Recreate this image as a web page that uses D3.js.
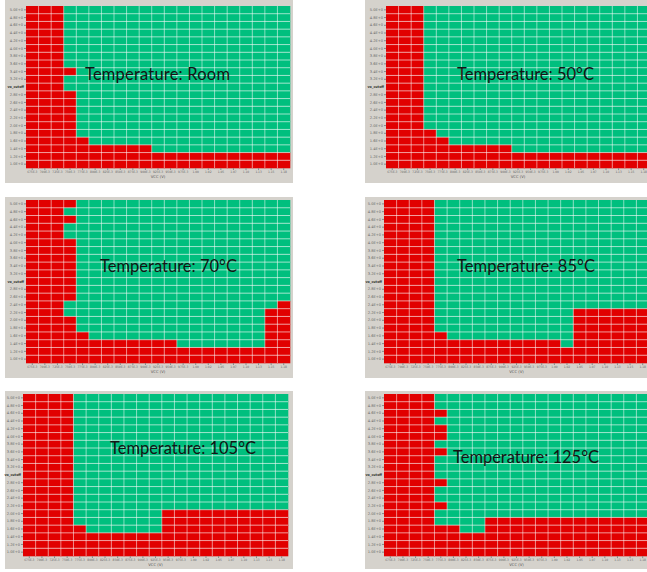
<!DOCTYPE html>
<html>
<head>
<meta charset="utf-8">
<script src="https://cdn.jsdelivr.net/npm/d3@7"></script>
<style>
  html, body { margin: 0; padding: 0; background: #ffffff; }
  svg { display: block; }
</style>
</head>
<body>
<svg id="chart" width="647" height="572"></svg>
<script>
// Supply voltage sweep (columns) and output level sweep (rows, top to bottom)
const vccSteps = [0.675, 0.700, 0.725, 0.750, 0.775, 0.800, 0.825, 0.850, 0.875, 0.900, 0.925,
                  0.950, 0.975, 1.000, 1.025, 1.050, 1.075, 1.100, 1.125, 1.150, 1.175];
const voutSteps = [5.0, 4.8, 4.6, 4.4, 4.2, 4.0, 3.8, 3.6, 3.4, 3.2, 3.0,
                   2.8, 2.6, 2.4, 2.2, 2.0, 1.8, 1.6, 1.4, 1.2, 1.0];

const temperatureLabels = ["Room", "50°C", "70°C", "85°C", "105°C", "125°C"];

// Shmoo results per row: alternating run lengths of FAIL, PASS, FAIL ... cells (left to right)
const shmooRoom = [
  [3, 18], [3, 18], [3, 18], [3, 18], [3, 18], [3, 18], [3, 18], [3, 18],
  [4, 17], [3, 18], [3, 18],
  [4, 17], [4, 17], [4, 17], [4, 17], [4, 17], [4, 17],
  [5, 16], [10, 11], [21], [21]
];
const shmoo50 = [
  [3, 18], [3, 18], [3, 18], [3, 18], [3, 18], [3, 18], [3, 18], [3, 18],
  [3, 18], [3, 18], [3, 18], [3, 18], [3, 18], [3, 18], [3, 18], [3, 18],
  [4, 17], [5, 16], [10, 11], [21], [21]
];
const shmoo70 = [
  [4, 17], [3, 18], [4, 17], [3, 18], [3, 18],
  [4, 17], [4, 17], [4, 17], [4, 17], [4, 17], [4, 17], [4, 17], [4, 17],
  [3, 17, 1], [3, 16, 2], [4, 15, 2], [4, 15, 2], [5, 14, 2], [12, 7, 2],
  [21], [21]
];
const shmoo85 = [
  [4, 17], [4, 17], [4, 17], [4, 17], [4, 17], [4, 17], [4, 17],
  [4, 17], [4, 17], [4, 17], [4, 17], [4, 17], [4, 17], [4, 17],
  [4, 11, 6], [4, 11, 6], [4, 11, 6], [5, 10, 6], [14, 1, 6],
  [21], [21]
];
const shmoo105 = [
  [4, 17], [4, 17], [4, 17], [4, 17], [4, 17], [4, 17], [4, 17], [4, 17],
  [4, 17], [4, 17], [4, 17], [4, 17], [4, 17], [4, 17], [4, 17],
  [4, 7, 10], [4, 7, 10], [5, 6, 10],
  [21], [21], [21]
];
const shmoo125 = [
  [4, 17], [4, 17], [5, 16], [4, 17], [5, 16], [5, 16], [4, 17], [5, 16],
  [4, 17], [4, 17], [4, 17], [5, 16], [4, 17], [4, 17], [5, 16], [4, 17],
  [4, 4, 13], [6, 2, 13],
  [21], [21], [21]
];

const shmooData = [shmooRoom, shmoo50, shmoo70, shmoo85, shmoo105, shmoo125];

// Panel layout: background box, plot area, caption placement
const layout = [
  { box: [5, 0, 288, 183],   plot: [26, 6, 264, 162],   cap: [85, 80, 145] },
  { box: [365, 0, 290, 183], plot: [386, 6, 264, 162],  cap: [457, 80, 137] },
  { box: [5, 197, 288, 181], plot: [26, 200, 264, 163], cap: [100, 271.5, 137] },
  { box: [365, 197, 290, 181], plot: [384, 200, 265, 163], cap: [457, 272, 138] },
  { box: [5, 391, 288, 178], plot: [23, 394, 265, 162], cap: [110, 454, 146] },
  { box: [365, 391, 290, 178], plot: [384, 394, 265, 162], cap: [453, 463, 146] }
];

const FAIL = "#e10000", PASS = "#00bf7e", PANEL_BG = "#d5d2cc";

const fmtVcc = v => v < 1 ? Math.round(v * 1000) + "E-3" : v.toFixed(2);
const fmtVout = v => v.toFixed(1) + "E+0";
// The axis title takes the place of this row's tick label
const titleRow = 10;

// Expand run lengths into per-cell records
function expandRows(rows) {
  const cells = [];
  rows.forEach((runs, r) => {
    let col = 0;
    runs.forEach((len, i) => {
      for (let j = 0; j < len; j++) {
        cells.push({ row: r, col: col, pass: i % 2 === 1 });
        col++;
      }
    });
    if (col !== vccSteps.length) console.warn("row", r, "has", col, "cells");
  });
  return cells;
}

const svg = d3.select("#chart");

layout.forEach((L, i) => {
  const g = svg.append("g").attr("class", "panel");
  g.append("rect")
    .attr("x", L.box[0]).attr("y", L.box[1])
    .attr("width", L.box[2]).attr("height", L.box[3])
    .attr("fill", PANEL_BG);

  const [px, py, pw, ph] = L.plot;
  const x = d3.scaleBand().domain(vccSteps).range([px, px + pw]);
  const y = d3.scaleBand().domain(voutSteps).range([py, py + ph]);

  const cells = expandRows(shmooData[i]);
  g.append("g").selectAll("rect")
    .data(cells)
    .join("rect")
    .attr("x", d => x(vccSteps[d.col]))
    .attr("y", d => y(voutSteps[d.row]))
    .attr("width", x.bandwidth() + 0.3)
    .attr("height", y.bandwidth() + 0.3)
    .attr("fill", d => d.pass ? PASS : FAIL);

  // Cell separators
  const grid = g.append("g").attr("stroke", "#ffffff").attr("stroke-width", 1);
  grid.selectAll("line.v")
    .data(vccSteps.slice(1))
    .join("line")
    .attr("x1", d => x(d)).attr("x2", d => x(d))
    .attr("y1", py).attr("y2", py + ph)
    .attr("stroke-opacity", 0.5);
  grid.selectAll("line.h")
    .data(voutSteps.slice(1))
    .join("line")
    .attr("x1", px).attr("x2", px + pw)
    .attr("y1", d => y(d)).attr("y2", d => y(d))
    .attr("stroke-opacity", 0.6);

  // Axes
  const xAxis = d3.axisBottom(x).tickFormat(fmtVcc).tickSize(2).tickPadding(1);
  const xa = g.append("g").attr("transform", `translate(0,${py + ph})`).call(xAxis);
  xa.select(".domain").remove();
  xa.selectAll("line").attr("stroke", "#888");
  xa.selectAll("text").attr("font-size", 3.2).attr("fill", "#666").attr("font-family", "DejaVu Sans Condensed, DejaVu Sans");

  const yAxis = d3.axisLeft(y)
    .tickValues(voutSteps.filter((v, k) => k !== titleRow))
    .tickFormat(fmtVout).tickSize(2).tickPadding(1);
  const ya = g.append("g").attr("transform", `translate(${px},0)`).call(yAxis);
  ya.select(".domain").remove();
  ya.selectAll("line").attr("stroke", "#888");
  ya.selectAll("text").attr("font-size", 3.6).attr("fill", "#666").attr("font-family", "DejaVu Sans");

  g.append("text")
    .attr("x", px + pw / 2).attr("y", py + ph + 10)
    .attr("text-anchor", "middle")
    .attr("font-family", "DejaVu Sans").attr("font-size", 3.8).attr("fill", "#555")
    .text("VCC (V)");
  g.append("text")
    .attr("x", px - 2).attr("y", y(voutSteps[titleRow]) + y.bandwidth() / 2 + 1.3)
    .attr("text-anchor", "end")
    .attr("font-family", "DejaVu Sans Condensed, DejaVu Sans").attr("font-size", 3.6).attr("font-weight", "bold").attr("fill", "#333")
    .text("vo_cutoff");

  // Temperature caption
  g.append("text")
    .attr("x", L.cap[0]).attr("y", L.cap[1])
    .attr("textLength", L.cap[2])
    .attr("font-family", "Lato, 'Open Sans', sans-serif")
    .attr("font-size", 16.5)
    .attr("fill", "#141414")
    .text("Temperature: " + temperatureLabels[i]);
});
</script>
</body>
</html>
